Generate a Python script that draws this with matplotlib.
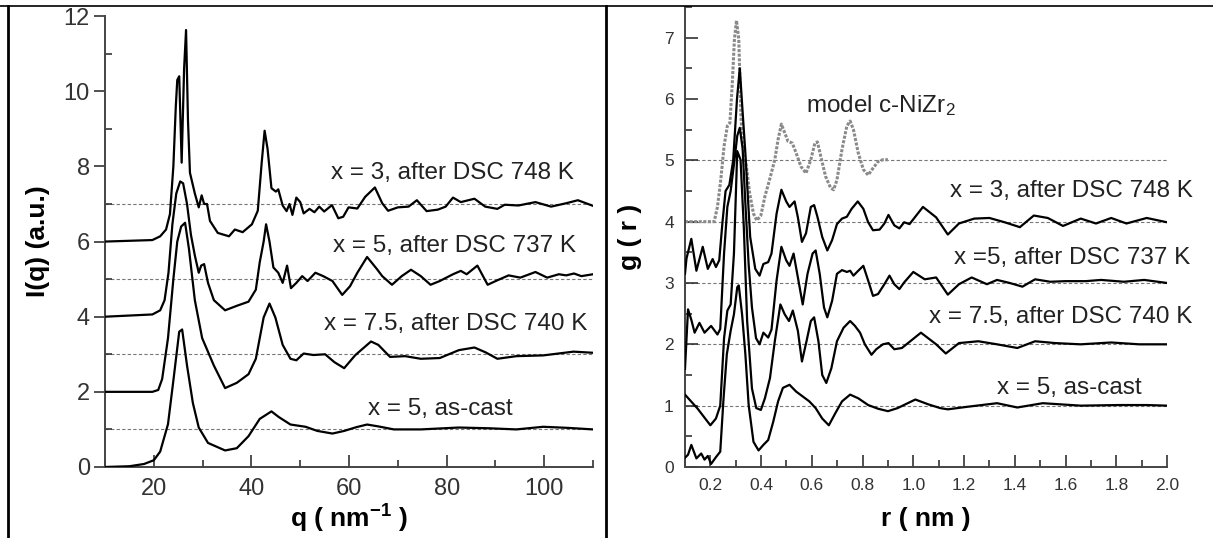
import numpy as np
import matplotlib
matplotlib.use("Agg")
import matplotlib.pyplot as plt
from matplotlib.ticker import MultipleLocator
from matplotlib.lines import Line2D

plt.rcParams['font.family'] = ['Liberation Sans', 'DejaVu Sans']
plt.rcParams['mathtext.fontset'] = 'custom'
plt.rcParams['mathtext.rm'] = 'Liberation Sans'
plt.rcParams['mathtext.bf'] = 'Liberation Sans:bold'
plt.rcParams['mathtext.default'] = 'regular'

# ---- left panel: I(q), (q, I) pairs
iq_ascast = [(10, 0), (15, 0.02), (18, 0.08), (20, 0.18), (21.3, 0.41), (22.9, 1.14), (24, 2.3),
             (25.2, 3.6), (25.8, 3.66), (26.8, 2.7), (28, 1.7), (29.2, 1.05), (31.1, 0.64),
             (34.6, 0.44), (37, 0.5), (39.4, 0.82), (41.7, 1.28), (44.1, 1.48), (45.6, 1.33),
             (48, 1.13), (51.1, 1.07), (53.5, 0.96), (56.6, 0.89), (59, 0.96), (61.5, 1.06),
             (63.7, 1.13), (66, 1.08), (69.2, 1.0), (74.7, 1.0), (82.5, 1.05), (88.8, 1.03),
             (94.3, 1.0), (99.8, 1.07), (105, 1.04), (110, 1.0)]
iq_x75 = [(10, 2), (19.7, 2.0), (20.9, 2.05), (21.7, 2.34), (22.9, 3.43), (24, 5.0), (24.8, 6.0),
          (25.6, 6.4), (26.4, 6.5), (27.2, 5.8), (28.4, 4.44), (29.9, 3.43), (32.3, 2.7),
          (34.6, 2.1), (37, 2.24), (39.4, 2.47), (40.9, 2.88), (42.5, 3.98), (43.7, 4.35),
          (44.9, 3.98), (46.4, 3.25), (48, 2.88), (49.2, 2.84), (50.7, 3.02), (52.7, 2.98),
          (55.1, 3.0), (57, 2.79), (59, 2.63), (61.3, 2.98), (64.5, 3.34), (66, 3.25),
          (68.4, 2.93), (71.5, 2.95), (74.7, 2.88), (78.6, 2.9), (82.5, 3.11), (85.7, 3.18),
          (88, 3.05), (90.4, 2.88), (94.3, 2.95), (99.8, 2.97), (106, 3.07), (110, 3.04)]
iq_x5 = [(10, 4), (19.7, 4.06), (21.3, 4.17), (22.2, 4.44), (23, 5.17), (23.8, 6.46), (24.6, 7.28),
         (25.4, 7.6), (26, 7.55), (26.8, 7.0), (27.6, 6.18), (28.4, 5.63), (29.2, 5.17),
         (29.7, 5.36), (30.3, 5.4), (31.1, 4.9), (32.3, 4.44), (34.6, 4.17), (37, 4.29),
         (39.4, 4.4), (40.9, 4.72), (41.7, 5.45), (42.5, 6.0), (43, 6.46), (43.7, 6.0),
         (44.5, 5.31), (45.5, 5.17), (46.4, 4.9), (47.3, 5.36), (48.1, 4.76), (49.2, 4.9),
         (50.4, 5.08), (51.5, 4.95), (53.1, 5.17), (54.7, 5.08), (56.6, 4.95), (58.6, 4.58),
         (60.2, 4.81), (61.7, 5.17), (63.7, 5.59), (65.7, 5.27), (66.8, 5.08), (68.8, 4.85),
         (70.8, 5.08), (72.7, 5.25), (74.7, 5.08), (76.7, 4.85), (78.6, 4.95), (81.3, 5.13),
         (82.9, 5.22), (84.1, 5.13), (86.3, 5.36), (88.4, 4.85), (90.4, 4.97), (92.7, 5.1),
         (95.1, 5.04), (98.2, 5.19), (100.6, 5.04), (103, 5.13), (104.5, 5.1), (106.1, 5.15),
         (107.6, 5.08), (110, 5.13)]
iq_x3 = [(10, 6.0), (19.7, 6.04), (21.3, 6.14), (22.5, 6.32), (23.3, 6.73), (24, 8.0), (24.5, 9.6),
         (24.8, 10.3), (25.2, 10.4), (25.7, 8.1), (26.2, 10.6), (26.6, 11.63), (27, 9.2),
         (27.4, 7.83), (28.4, 7.28), (29.2, 6.91), (29.8, 7.23), (30.3, 7.0), (30.9, 7.0),
         (31.5, 6.55), (33.1, 6.23), (35.4, 6.14), (36.6, 6.32), (38.2, 6.25), (40.1, 6.46),
         (41.3, 6.82), (42.1, 8.1), (42.7, 8.95), (43.3, 8.47), (44.1, 7.42), (45, 7.33),
         (45.5, 7.39), (46.4, 6.96), (47.2, 6.81), (47.8, 7.0), (48.4, 6.71), (49.2, 7.17),
         (50, 7.05), (50.7, 6.75), (51.9, 6.87), (52.9, 6.78), (53.9, 6.93), (54.9, 6.8),
         (56.5, 6.97), (57.8, 6.62), (58.8, 6.66), (59.9, 6.91), (61.7, 6.88), (63.3, 7.19),
         (65.3, 7.44), (66.8, 7.02), (68, 6.82), (70, 6.91), (72.2, 6.93), (73.9, 7.1),
         (75.9, 6.81), (78.2, 6.85), (79.8, 6.93), (81.3, 7.17), (82.9, 7.05), (85.7, 7.14),
         (87.9, 6.93), (90.4, 6.87), (91.9, 6.98), (94.7, 6.96), (98.2, 7.05), (101.4, 6.93),
         (104.5, 7.02), (106.9, 7.1), (110, 6.95)]
iq_curves = [iq_ascast, iq_x75, iq_x5, iq_x3]
iq_baselines = [1, 3, 5, 7]
iq_labels = ['x = 5, as-cast', 'x = 7.5, after DSC 740 K', 'x = 5, after DSC 737 K',
             'x = 3, after DSC 748 K']
iq_label_pos = [(93.5, 1.54), (108.8, 3.8), (106.5, 5.89), (106.1, 7.83)]

# ---- right panel: g(r), (r, g) pairs
gr_ascast = [(0.1, 0.15), (0.112, 0.2), (0.125, 0.36), (0.145, 0.14), (0.164, 0.22), (0.177, 0.12),
             (0.19, 0.18), (0.203, 0.05), (0.222, 0.16), (0.239, 0.25), (0.252, 1.12),
             (0.265, 1.84), (0.28, 2.22), (0.293, 2.49), (0.306, 2.93), (0.312, 2.96),
             (0.325, 2.49), (0.338, 1.84), (0.351, 1.01), (0.37, 0.41), (0.39, 0.27), (0.409, 0.36),
             (0.428, 0.44), (0.448, 0.74), (0.467, 1.07), (0.486, 1.29), (0.512, 1.34),
             (0.538, 1.23), (0.564, 1.15), (0.59, 1.07), (0.615, 0.96), (0.641, 0.79),
             (0.667, 0.68), (0.693, 0.88), (0.719, 1.07), (0.751, 1.18), (0.783, 1.12),
             (0.822, 1.01), (0.861, 0.95), (0.9, 0.91), (0.938, 0.96), (1.008, 1.1), (1.06, 1.02),
             (1.106, 0.96), (1.136, 0.94), (1.21, 0.98), (1.33, 1.04), (1.41, 0.97), (1.51, 1.04),
             (1.66, 1.0), (1.81, 1.01), (1.92, 1.01), (2.0, 1.0)]
gr_x75 = [(0.1, 1.18), (0.15, 0.95), (0.2, 0.68), (0.222, 0.79), (0.239, 1.0), (0.254, 2.1),
          (0.267, 2.55), (0.28, 2.65), (0.293, 3.48), (0.306, 5.15), (0.319, 5.01), (0.332, 3.9),
          (0.345, 2.38), (0.364, 1.28), (0.381, 0.96), (0.399, 0.93), (0.415, 1.12), (0.435, 1.45),
          (0.454, 2.05), (0.476, 2.65), (0.493, 2.49), (0.51, 2.38), (0.525, 2.55), (0.545, 2.22),
          (0.561, 1.72), (0.579, 2.05), (0.596, 2.38), (0.609, 2.44), (0.626, 2.05), (0.641, 1.5),
          (0.657, 1.37), (0.677, 1.61), (0.699, 2.05), (0.725, 2.27), (0.751, 2.38), (0.77, 2.3),
          (0.79, 2.19), (0.809, 2.0), (0.835, 1.83), (0.854, 1.92), (0.88, 2.0), (0.902, 2.02),
          (0.925, 1.92), (0.955, 1.94), (1.03, 2.19), (1.09, 2.0), (1.128, 1.85), (1.18, 2.02),
          (1.256, 2.05), (1.33, 2.0), (1.41, 1.94), (1.48, 2.05), (1.56, 2.02), (1.66, 2.0),
          (1.78, 2.03), (1.89, 2.0), (2.0, 2.0)]
gr_x5 = [(0.1, 1.6), (0.112, 2.57), (0.125, 2.4), (0.138, 2.19), (0.157, 2.35), (0.177, 2.19),
         (0.203, 2.3), (0.228, 2.16), (0.239, 2.25), (0.254, 3.48), (0.267, 4.24), (0.28, 4.5),
         (0.295, 5.0), (0.306, 5.4), (0.316, 5.53), (0.327, 5.2), (0.338, 4.3), (0.351, 3.3),
         (0.364, 2.6), (0.38, 2.1), (0.394, 2.0), (0.409, 2.19), (0.428, 2.11), (0.441, 2.24),
         (0.461, 3.04), (0.48, 3.59), (0.499, 3.37), (0.512, 3.28), (0.528, 3.48), (0.545, 3.09),
         (0.564, 2.65), (0.583, 3.15), (0.603, 3.48), (0.615, 3.53), (0.631, 3.15), (0.648, 2.6),
         (0.661, 2.44), (0.68, 2.71), (0.699, 3.15), (0.719, 3.21), (0.738, 3.18), (0.751, 3.2),
         (0.764, 3.12), (0.783, 3.2), (0.803, 3.28), (0.822, 3.04), (0.841, 2.79), (0.861, 2.82),
         (0.886, 2.98), (0.906, 3.12), (0.925, 2.98), (0.945, 2.9), (0.964, 3.01), (1.0, 3.18),
         (1.045, 3.06), (1.09, 3.09), (1.136, 2.81), (1.18, 2.98), (1.23, 3.09), (1.29, 2.98),
         (1.33, 3.05), (1.38, 3.0), (1.43, 2.94), (1.48, 3.06), (1.54, 3.02), (1.6, 3.03),
         (1.68, 3.03), (1.74, 3.05), (1.83, 3.02), (1.91, 3.05), (2.0, 3.0)]
gr_x3 = [(0.1, 3.15), (0.106, 3.4), (0.125, 3.72), (0.145, 3.2), (0.17, 3.59), (0.19, 3.23),
         (0.209, 3.39), (0.222, 3.26), (0.235, 3.37), (0.248, 4.0), (0.26, 4.5), (0.275, 4.6),
         (0.29, 5.0), (0.305, 6.0), (0.316, 6.5), (0.327, 5.8), (0.338, 5.12), (0.357, 3.75),
         (0.377, 3.23), (0.394, 3.12), (0.409, 3.31), (0.428, 3.34), (0.441, 3.48), (0.461, 4.13),
         (0.48, 4.52), (0.499, 4.33), (0.512, 4.24), (0.532, 4.33), (0.545, 4.07), (0.561, 3.67),
         (0.577, 3.81), (0.596, 4.24), (0.609, 4.27), (0.622, 4.08), (0.641, 3.75), (0.661, 3.53),
         (0.68, 3.7), (0.699, 3.96), (0.719, 4.05), (0.738, 4.08), (0.757, 4.21), (0.781, 4.33),
         (0.803, 4.21), (0.822, 3.99), (0.841, 3.86), (0.867, 3.87), (0.886, 3.97), (0.902, 4.11),
         (0.925, 3.94), (0.945, 3.89), (0.964, 3.99), (0.985, 3.96), (1.038, 4.24), (1.09, 4.07),
         (1.136, 3.79), (1.18, 3.97), (1.24, 4.05), (1.3, 4.06), (1.36, 3.99), (1.42, 3.91),
         (1.475, 4.1), (1.53, 4.06), (1.59, 3.93), (1.66, 4.05), (1.72, 3.97), (1.78, 4.06),
         (1.84, 3.97), (1.92, 4.06), (2.0, 3.99)]
gr_model = [(0.1, 4.0), (0.215, 4.0), (0.228, 4.24), (0.241, 4.68), (0.254, 5.23), (0.267, 5.56),
            (0.277, 5.61), (0.286, 6.22), (0.295, 6.98), (0.303, 7.28), (0.312, 6.98),
            (0.321, 5.67), (0.332, 5.12), (0.342, 4.9), (0.355, 4.46), (0.37, 4.13), (0.383, 4.02),
            (0.399, 4.1), (0.415, 4.41), (0.437, 4.74), (0.454, 5.01), (0.467, 5.34), (0.48, 5.59),
            (0.493, 5.45), (0.506, 5.31), (0.523, 5.28), (0.538, 5.12), (0.557, 4.9), (0.577, 4.79),
            (0.596, 5.01), (0.612, 5.28), (0.622, 5.3), (0.635, 5.07), (0.654, 4.74), (0.674, 4.55),
            (0.686, 4.52), (0.699, 4.68), (0.719, 5.18), (0.738, 5.56), (0.751, 5.64), (0.764, 5.5),
            (0.783, 5.12), (0.803, 4.85), (0.822, 4.76), (0.841, 4.87), (0.861, 4.98), (0.88, 5.01),
            (0.9, 5.01)]
gr_curves = [gr_ascast, gr_x75, gr_x5, gr_x3]
gr_baselines = [1, 2, 3, 4, 5]
gr_labels = ['x = 5, as-cast', 'x = 7.5, after DSC 740 K', 'x =5, after DSC 737 K',
             'x = 3, after DSC 748 K', 'model c-NiZr$_2$']
gr_label_pos = [(1.9, 1.29), (2.1, 2.45), (2.09, 3.4), (2.1, 4.5), (0.578, 5.9)]

fig = plt.figure(figsize=(12.13, 5.38), dpi=100)
ax1 = fig.add_axes([0.0866, 0.132, 0.4023, 0.838])
ax2 = fig.add_axes([0.5647, 0.132, 0.3974, 0.855])

dash = dict(color='#777777', lw=0.8, ls=(0, (3, 2)), zorder=1)
tick_col = '#333333'
lab_size = 17.5

# left
for b in iq_baselines:
    ax1.axhline(b, **dash)
for c in iq_curves:
    q, inten = np.array(c).T
    ax1.plot(q, inten, color='black', lw=1.6, zorder=3)
for txt, (x, y) in zip(iq_labels, iq_label_pos):
    ax1.text(x, y, txt, ha='right', va='center', fontsize=lab_size, color='#222222')
ax1.set_xlim(10, 110)
ax1.set_ylim(0, 12)
ax1.xaxis.set_major_locator(MultipleLocator(20))
ax1.xaxis.set_minor_locator(MultipleLocator(10))
ax1.yaxis.set_major_locator(MultipleLocator(2))
ax1.yaxis.set_minor_locator(MultipleLocator(1))
ax1.tick_params(axis='x', which='major', direction='in', length=9, width=1.2, labelsize=17,
                colors=tick_col, pad=8)
ax1.tick_params(axis='x', which='minor', direction='in', length=5, width=1.2, colors=tick_col)
ax1.tick_params(axis='y', which='major', direction='out', length=8, width=1.2, labelsize=17,
                colors=tick_col, pad=3)
ax1.tick_params(axis='y', which='minor', direction='in', length=5, width=1.2, colors=tick_col)
ax1.set_xlabel('q ( nm$^{\\mathbf{-1}}$ )', fontsize=19, fontweight='bold', labelpad=2)
ax1.set_ylabel('I(q) (a.u.)', fontsize=19, fontweight='bold', labelpad=10)

# right
for b in gr_baselines:
    ax2.axhline(b, **dash)
r, g = np.array(gr_model).T
ax2.plot(r, g, color='#8a8a8a', lw=2.2, ls=(0, (1, 0.5)), zorder=2)
for c in gr_curves:
    r, g = np.array(c).T
    ax2.plot(r, g, color='black', lw=1.6, zorder=3)
for i, (txt, (x, y)) in enumerate(zip(gr_labels, gr_label_pos)):
    ax2.text(x, y, txt, ha='left' if i == 4 else 'right', va='center', fontsize=lab_size,
             color='#222222', clip_on=False)
ax2.set_xlim(0.1, 2.0)
ax2.set_ylim(0, 7.5)
ax2.yaxis.set_major_locator(MultipleLocator(1))
ax2.yaxis.set_minor_locator(MultipleLocator(0.5))
ax2.xaxis.set_minor_locator(MultipleLocator(0.1))
ax2.set_xticks(np.arange(0.2, 2.01, 0.2))
ax2.set_xticklabels(['%.1f' % v for v in np.arange(0.2, 2.01, 0.2)])
ax2.tick_params(axis='both', which='major', direction='in', length=9, width=1.2, labelsize=12.5,
                colors=tick_col, pad=8)
ax2.tick_params(axis='both', which='minor', direction='in', length=5, width=1.2, colors=tick_col)
ax2.set_xlabel('r ( nm )', fontsize=19, fontweight='bold', labelpad=10)
ax2.set_ylabel('g ( r )', fontsize=19, fontweight='bold', labelpad=16)

for ax in (ax1, ax2):
    for s in ('top', 'right'):
        ax.spines[s].set_visible(False)
    for s in ('left', 'bottom'):
        ax.spines[s].set_color('#444444')
        ax.spines[s].set_linewidth(1.4)

# table frame around the two panels
W, H = 1213.0, 538.0
fig.add_artist(Line2D([0, 1], [1 - 6 / H, 1 - 6 / H], color='black', lw=1.2))
fig.add_artist(Line2D([8 / W, 8 / W], [0, 1 - 6 / H], color='black', lw=2))
fig.add_artist(Line2D([605.5 / W, 605.5 / W], [0, 1 - 6 / H], color='black', lw=2))

fig.savefig('out.png', dpi=100)
